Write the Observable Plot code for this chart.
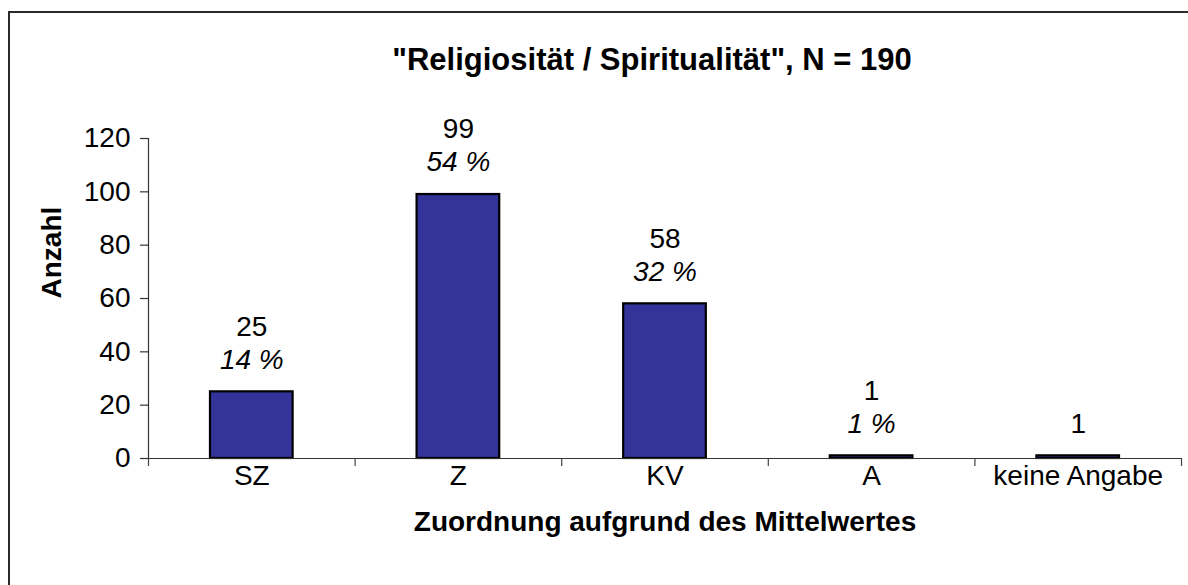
<!DOCTYPE html>
<html>
<head>
<meta charset="utf-8">
<script src="https://cdn.jsdelivr.net/npm/d3@7"></script>
<script src="https://cdn.jsdelivr.net/npm/@observablehq/plot@0.6"></script>
<style>
  html, body { margin: 0; padding: 0; background: #fff; }
  #wrap { position: relative; width: 1188px; height: 585px; overflow: hidden; }
  #border { position: absolute; left: 8px; top: 11px; width: 1300px; height: 700px;
            border-left: 2px solid #2a2a2a; border-top: 2px solid #2a2a2a; }
  #chart { position: absolute; left: 0; top: 0; }
</style>
</head>
<body>
<div id="wrap"><div id="border"></div><div id="chart"></div></div>
<script>
const categories = ["SZ", "Z", "KV", "A", "keine Angabe"];
const counts = [25, 99, 58, 1, 1];
const percents = ["14 %", "54 %", "32 %", "1 %", ""];
const yTicks = [0, 20, 40, 60, 80, 100, 120];
const titleText = '"Religiosität / Spiritualität", N = 190';
const xTitle = "Zuordnung aufgrund des Mittelwertes";
const yTitle = "Anzahl";

const data = categories.map((c, i) => ({cat: c, i, count: counts[i], pct: percents[i]}));
const withPct = data.filter(d => d.pct !== "");
const noPct = data.filter(d => d.pct === "");
const bounds = d3.range(categories.length + 1);

const chart = Plot.plot({
  width: 1188,
  height: 585,
  marginLeft: 148,
  marginRight: 7,
  marginTop: 138,
  marginBottom: 127,
  style: {fontFamily: "'Liberation Sans', Arial, sans-serif", fontSize: "28px", color: "#000", background: "transparent"},
  x: {type: "linear", domain: [0, categories.length], axis: null},
  y: {type: "linear", domain: [0, 120], axis: null},
  marks: [
    Plot.rectY(data, {x1: d => d.i + 0.3, x2: d => d.i + 0.7, y: "count", fill: "#333399", stroke: "#000", strokeWidth: 2.2}),
    Plot.ruleY([0], {stroke: "#333", strokeWidth: 1.2}),
    Plot.ruleX([0], {stroke: "#333", strokeWidth: 1.2}),
    Plot.axisY({ticks: yTicks, tickSize: 8, tickPadding: 10, fontSize: 28, stroke: "#333", strokeWidth: 1.2, label: null}),
    Plot.axisX({ticks: bounds, tickSize: 8, tickFormat: () => "", stroke: "#444", strokeWidth: 1.2, label: null}),
    Plot.text(data, {x: d => d.i + 0.5, text: "cat", frameAnchor: "bottom", lineAnchor: "middle", dy: 18, fontSize: 28}),
    Plot.text(withPct, {x: d => d.i + 0.5, y: "count", text: d => String(d.count), dy: -65, fontSize: 28}),
    Plot.text(withPct, {x: d => d.i + 0.5, y: "count", text: "pct", dy: -32, fontSize: 28, fontStyle: "italic"}),
    Plot.text(noPct, {x: d => d.i + 0.5, y: "count", text: d => String(d.count), dy: -32, fontSize: 28}),
    Plot.text([titleText], {frameAnchor: "top", lineAnchor: "middle", dy: -78, dx: -13, fontSize: 31, fontWeight: "bold"}),
    Plot.text([xTitle], {frameAnchor: "bottom", lineAnchor: "middle", dy: 64, fontSize: 28, fontWeight: "bold"}),
    Plot.text([yTitle], {frameAnchor: "left", dx: -96, rotate: -90, fontSize: 28, fontWeight: "bold"})
  ]
});
document.getElementById("chart").appendChild(chart);
</script>
</body>
</html>
